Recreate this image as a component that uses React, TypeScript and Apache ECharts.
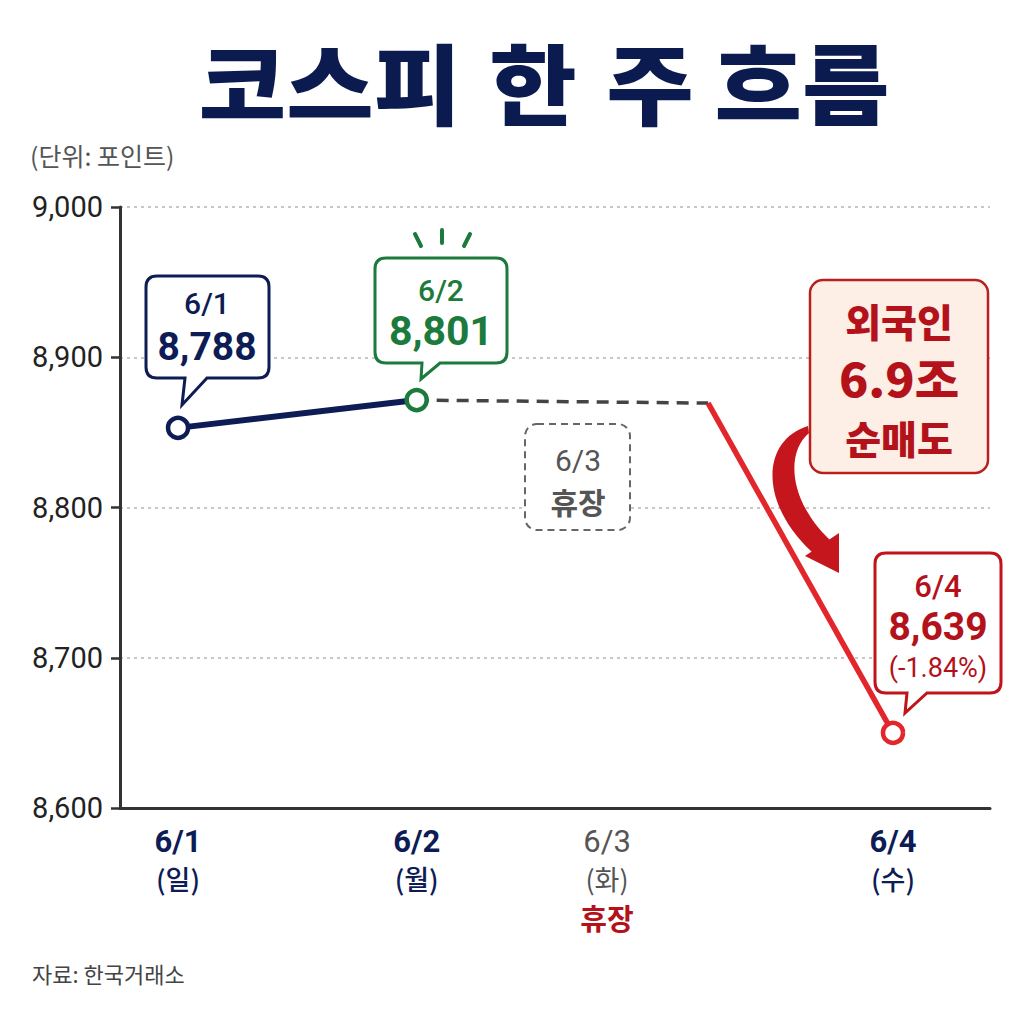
import React, { useEffect, useRef } from "react";
import * as echarts from "echarts";

// ---- data ----
const days = ["6/1", "6/2", "6/3", "6/4"];
const weekdays = ["(일)", "(월)", "(화)", "(수)"];
const dayPos = [6.67, 34.1, 55.98, 88.85];
const plotValues = [8853, 8871.5, null, 8650];
const closeLabels = ["8,788", "8,801", "", "8,639"];
const changeLabel = "(-1.84%)";
const breakPos = 67.6;
const breakValue = 8869.5;
const yTicks = [8600, 8700, 8800, 8900, 9000];
const titleWords = ["코스피", "한", "주", "흐름"];
const titleCenters = [330, 533, 650, 802];

const NAVY = "#0d1c55";
const GREEN = "#1b7a3c";
const RED = "#e2262b";
const DARKRED = "#b3121b";
const GRAY = "#555555";
const FONT = "Roboto, 'Noto Sans CJK KR', sans-serif";
const KFONT = "'Noto Sans CJK KR', Roboto, sans-serif";

function calloutPath(l: number, t: number, r: number, b: number, rad: number, tx1: number, tx2: number, tipX: number, tipY: number) {
  return `M${l + rad} ${t} H${r - rad} Q${r} ${t} ${r} ${t + rad} V${b - rad} Q${r} ${b} ${r - rad} ${b} H${tx2} L${tipX} ${tipY} L${tx1} ${b} H${l + rad} Q${l} ${b} ${l} ${b - rad} V${t + rad} Q${l} ${t} ${l + rad} ${t} Z`;
}

echarts.graphic.registerShape("callout1", echarts.graphic.extendPath(calloutPath(146, 276, 269, 378, 11, 185, 207, 182, 405), {}));
echarts.graphic.registerShape("callout2", echarts.graphic.extendPath(calloutPath(375, 258, 507, 363, 11, 422, 440, 421, 379), {}));
echarts.graphic.registerShape("callout4", echarts.graphic.extendPath(calloutPath(875, 553, 1001, 693, 11, 907, 927, 905, 713), {}));
echarts.graphic.registerShape("arrowBody", echarts.graphic.extendPath("M808 426 C762 440 758 502 812 552 L830 540 C788 500 786 452 809 433 Z", {}));

export default function App() {
  const ref = useRef<HTMLDivElement>(null);
  useEffect(() => {
    if (!ref.current) return;
    const chart = echarts.init(ref.current, null, { renderer: "svg" });

    const pts = dayPos
      .map((x, i) => ({ x, v: plotValues[i], i }))
      .filter((p) => p.v !== null);
    const colors = [NAVY, GREEN, GRAY, RED];

    const txt = (x: number, y: number, text: string, size: number, fill: string, weight: any = "normal", family = FONT, scaleX = 1) => ({
      type: "text",
      x,
      y,
      scaleX,
      z: 20,
      style: { text, fontSize: size, fontWeight: weight, fontFamily: family, fill, align: "center", verticalAlign: "middle" },
    });

    chart.setOption({
      animation: false,
      backgroundColor: "#ffffff",
      grid: { left: 120, right: 34, top: 207, bottom: 216 },
      xAxis: {
        type: "value",
        min: 0,
        max: 100,
        splitLine: { show: false },
        axisLine: { show: true, onZero: false, lineStyle: { color: "#333", width: 3 } },
        axisTick: { show: false },
        axisLabel: {
          customValues: dayPos,
          margin: 14,
          formatter: (val: number) => {
            let idx = 0;
            let best = Infinity;
            dayPos.forEach((p, i) => {
              if (Math.abs(p - val) < best) { best = Math.abs(p - val); idx = i; }
            });
            if (idx === 2) return `{dg|${days[idx]}}\n{wg|${weekdays[idx]}}\n{r|휴장}`;
            return `{d|${days[idx]}}\n{w|${weekdays[idx]}}`;
          },
          rich: {
            d: { fontSize: 31, fontWeight: "bold", color: NAVY, fontFamily: FONT, lineHeight: 38 },
            w: { fontSize: 27, fontWeight: 500, color: NAVY, fontFamily: KFONT, lineHeight: 36 },
            dg: { fontSize: 31, color: GRAY, fontFamily: FONT, lineHeight: 38 },
            wg: { fontSize: 27, color: GRAY, fontFamily: KFONT, lineHeight: 36 },
            r: { fontSize: 29, fontWeight: "bold", color: DARKRED, fontFamily: KFONT, lineHeight: 42 },
          },
        },
      },
      yAxis: {
        type: "value",
        min: 8600,
        max: 9000,
        interval: 100,
        axisLine: { show: true, lineStyle: { color: "#333", width: 3 } },
        axisTick: { show: true, length: 9, lineStyle: { color: "#333", width: 2.5 } },
        axisLabel: {
          margin: 17,
          fontSize: 29,
          color: "#222",
          fontFamily: FONT,
          formatter: (v: number) => (yTicks.includes(v) ? v.toLocaleString("en-US") : ""),
        },
        splitLine: { show: true, lineStyle: { color: "#b5b5b5", width: 1.5, type: [3, 4] } },
      },
      series: [
        {
          type: "line",
          data: [[dayPos[0], plotValues[0]], [dayPos[1], plotValues[1]]],
          symbol: "none",
          lineStyle: { color: NAVY, width: 6 },
          z: 3,
        },
        {
          type: "line",
          data: [[dayPos[1], plotValues[1]], [breakPos, breakValue]],
          symbol: "none",
          lineStyle: { color: "#444", width: 3.5, type: [12, 8] },
          z: 2,
        },
        {
          type: "line",
          data: [[breakPos, breakValue], [dayPos[3], plotValues[3]]],
          symbol: "none",
          lineStyle: { color: RED, width: 5.5 },
          z: 3,
        },
        {
          type: "scatter",
          z: 5,
          symbolSize: 20,
          data: pts.map((p) => ({
            value: [p.x, p.v],
            itemStyle: { color: "#fff", borderColor: colors[p.i], borderWidth: 4.5, opacity: 1 },
          })),
        },
      ],
      graphic: [
        ...titleWords.map((w, i) => txt(titleCenters[i], 80, w, 88, "#0b1a4f", 900, KFONT, 1.08)),
        { type: "text", x: 30, y: 155, style: { text: "(단위: 포인트)", fontSize: 25, fontFamily: KFONT, fill: GRAY, verticalAlign: "middle" } },
        { type: "text", x: 32, y: 973, style: { text: "자료: 한국거래소", fontSize: 22, fontFamily: KFONT, fill: "#444", verticalAlign: "middle" } },
        // 6/1 callout
        { type: "callout1", z: 10, style: { fill: "#fff", stroke: NAVY, lineWidth: 3 } },
        txt(207, 303, days[0], 30, NAVY, 500),
        txt(207, 347, closeLabels[0], 39, NAVY, "bold"),
        // 6/2 callout
        { type: "callout2", z: 10, style: { fill: "#fff", stroke: GREEN, lineWidth: 3 } },
        txt(441, 290, days[1], 30, GREEN, 500),
        txt(441, 331, closeLabels[1], 41, GREEN, "bold"),
        { type: "line", z: 10, shape: { x1: 415, y1: 234, x2: 421, y2: 246 }, style: { stroke: GREEN, lineWidth: 4, lineCap: "round" } },
        { type: "line", z: 10, shape: { x1: 442, y1: 230, x2: 442, y2: 243 }, style: { stroke: GREEN, lineWidth: 4, lineCap: "round" } },
        { type: "line", z: 10, shape: { x1: 470, y1: 234, x2: 464, y2: 246 }, style: { stroke: GREEN, lineWidth: 4, lineCap: "round" } },
        // 6/3 dashed box
        { type: "rect", z: 10, shape: { x: 525, y: 424, width: 105, height: 106, r: 12 }, style: { fill: "#fff", stroke: "#666", lineWidth: 2, lineDash: [7, 5] } },
        txt(578, 460, days[2], 30, GRAY, "normal"),
        txt(578, 501, "휴장", 30, GRAY, "bold", KFONT),
        // foreign box
        { type: "rect", z: 10, shape: { x: 810, y: 280, width: 178, height: 193, r: 13 }, style: { fill: "#fdeee6", stroke: "#b8201f", lineWidth: 2.5 } },
        txt(899, 320, "외국인", 39, DARKRED, 900, KFONT),
        txt(899, 377, "6.9조", 46, DARKRED, 900, KFONT, 1.05),
        txt(899, 437, "순매도", 39, DARKRED, 900, KFONT),
        { type: "arrowBody", z: 11, style: { fill: "#c4161c" } },
        { type: "polygon", z: 11, shape: { points: [[805, 556], [839, 533], [839, 573]] }, style: { fill: "#c4161c" } },
        // 6/4 callout
        { type: "callout4", z: 10, style: { fill: "#fff", stroke: "#c0141a", lineWidth: 3 } },
        txt(938, 586, days[3], 31, DARKRED, 500),
        txt(938, 627, closeLabels[3], 39, DARKRED, "bold"),
        txt(938, 668, changeLabel, 27, DARKRED, "normal"),
      ],
    });
    return () => chart.dispose();
  }, []);
  return <div ref={ref} style={{ width: 1024, height: 1024, position: "absolute", left: 0, top: 0 }} />;
}
